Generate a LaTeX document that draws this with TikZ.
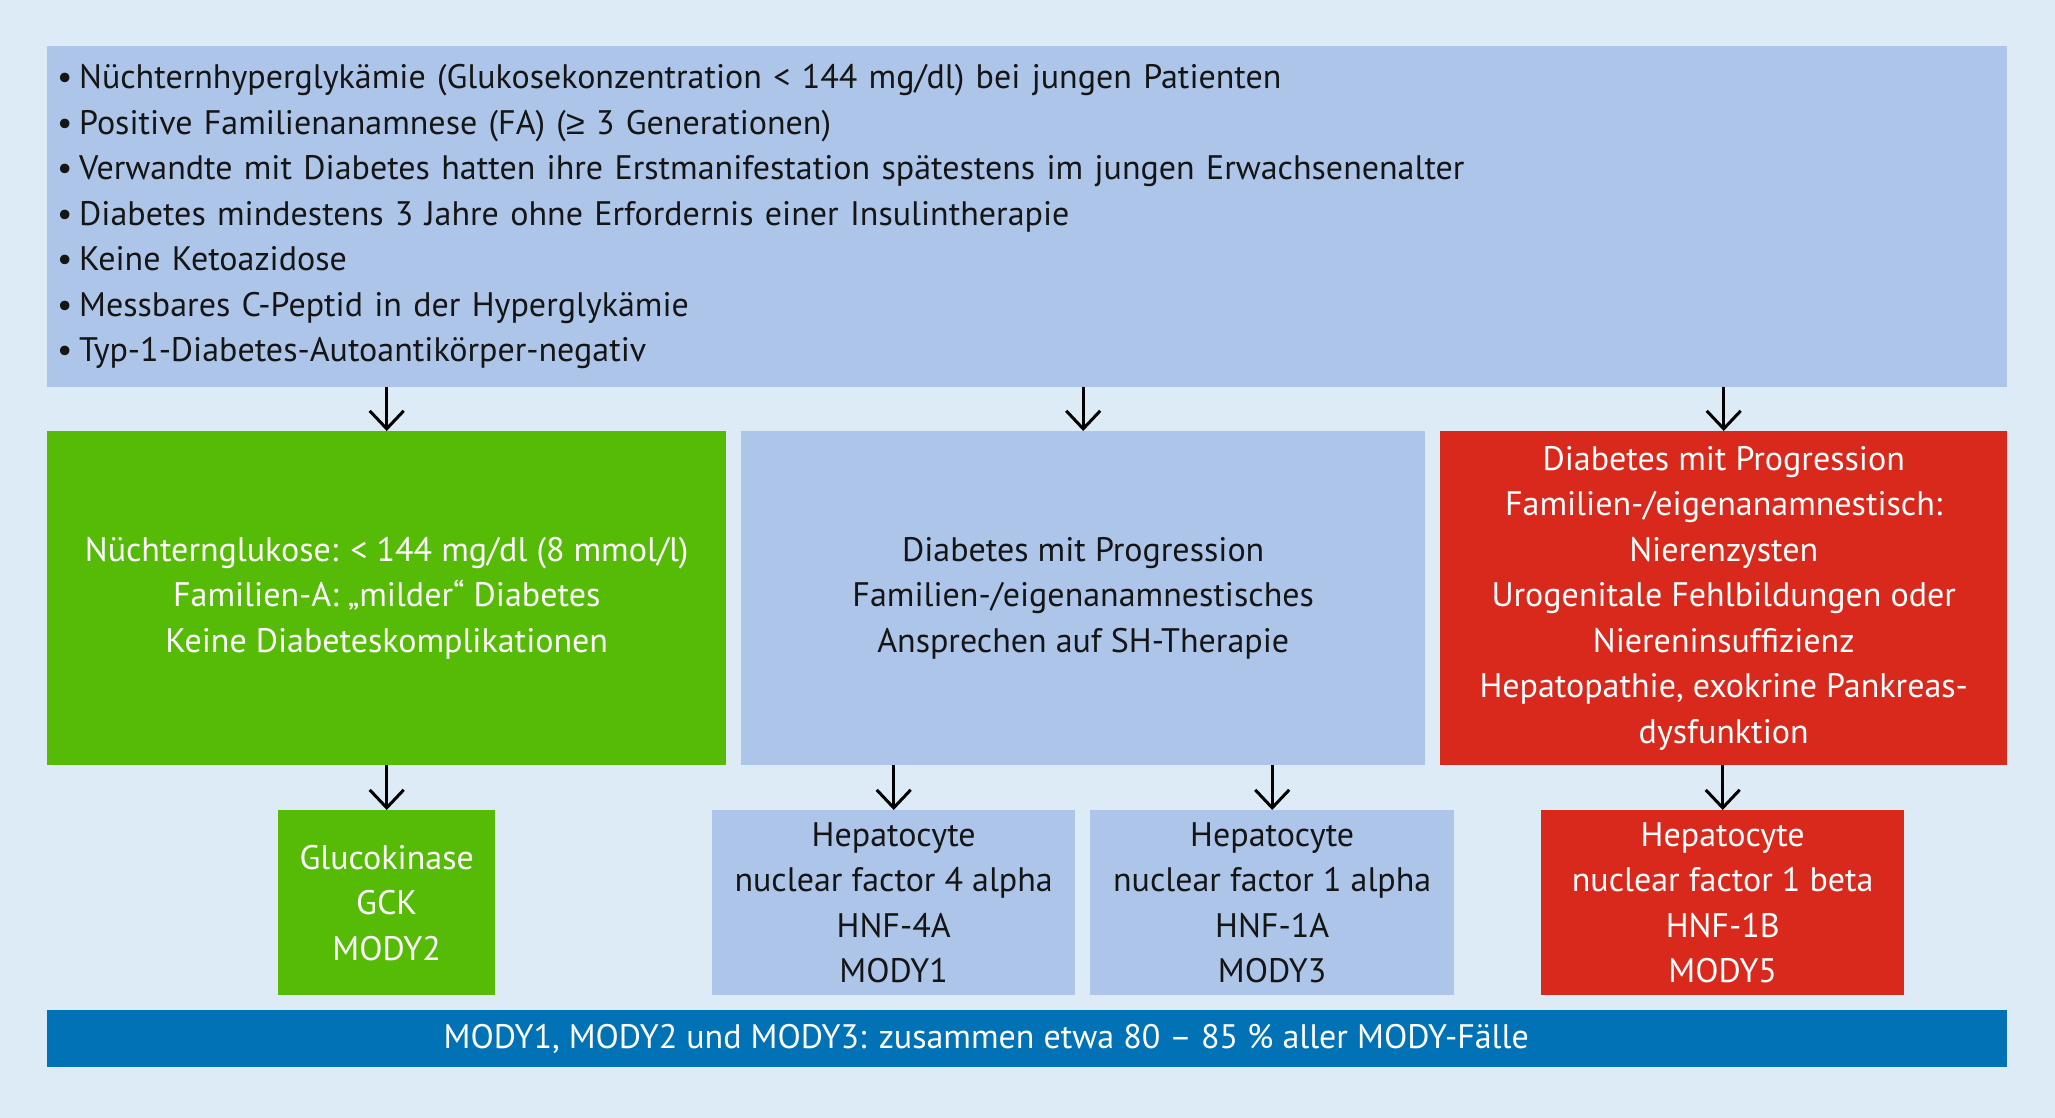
\documentclass[tikz,border=0pt]{standalone}
\usepackage{fontspec}
\setmainfont{PT Sans}
\newfontfamily\symf{Liberation Sans}
\usetikzlibrary{arrows.meta}
\definecolor{bg}{HTML}{DDEBF7}
\definecolor{lb}{HTML}{ADC5E8}
\definecolor{gr}{HTML}{55BB07}
\definecolor{rd}{HTML}{D9291C}
\definecolor{db}{HTML}{0072B5}
\definecolor{txt}{HTML}{151515}
\newcommand{\bul}{\makebox[22pt][l]{•}}
\begin{document}
\begin{tikzpicture}[x=1pt,y=-1pt,
  box/.style={rectangle, inner sep=0pt, anchor=north west, align=center,
    font=\fontsize{34}{45.5}\selectfont},
  light/.style={box, fill=lb, text=txt},
  green/.style={box, fill=gr, text=white},
  red/.style={box, fill=rd, text=white},
  arr/.style={-{Straight Barb[length=18pt,width=34pt]}, line width=3pt, black}]
\fill[bg] (0,0) rectangle (2055,1118);
\useasboundingbox (0,0) rectangle (2055,1118);
\node[light, minimum width=1960pt, minimum height=341pt, text width=1940pt, align=left] (top) at (47,46)
{\bul Nüchternhyperglykämie (Glukosekonzentration < 144 mg/dl) bei jungen Patienten\\
\bul Positive Familienanamnese (FA) ({\symf ≥} 3 Generationen)\\
\bul Verwandte mit Diabetes hatten ihre Erstmanifestation spätestens im jungen Erwachsenenalter\\
\bul Diabetes mindestens 3 Jahre ohne Erfordernis einer Insulintherapie\\
\bul Keine Ketoazidose\\
\bul Messbares C-Peptid in der Hyperglykämie\\
\bul Typ-1-Diabetes-Autoantikörper-negativ};
\node[green, minimum width=679pt, minimum height=334pt] (grn) at (47,431)
{Nüchternglukose: < 144 mg/dl (8 mmol/l)\\ Familien-A: „milder“ Diabetes\\ Keine Diabeteskomplikationen};
\node[light, minimum width=684pt, minimum height=334pt] (mid) at (741,431)
{Diabetes mit Progression\\ Familien-/eigenanamnestisches\\ Ansprechen auf SH-Therapie};
\node[red, minimum width=567pt, minimum height=334pt] (rdb) at (1440,431)
{Diabetes mit Progression\\ Familien-/eigenanamnestisch:\\ Nierenzysten\\ Urogenitale Fehlbildungen oder\\ Niereninsuffizienz\\ Hepatopathie, exokrine Pankreas-\\ dysfunktion};
\node[green, minimum width=217pt, minimum height=185pt] (gck) at (278,810)
{Glucokinase\\ GCK\\ MODY2};
\node[light, minimum width=363pt, minimum height=185pt] (hnf4) at (712,810)
{Hepatocyte\\ nuclear factor 4 alpha\\ HNF-4A\\ MODY1};
\node[light, minimum width=364pt, minimum height=185pt] (hnf1a) at (1090,810)
{Hepatocyte\\ nuclear factor 1 alpha\\ HNF-1A\\ MODY3};
\node[red, minimum width=363pt, minimum height=185pt] (hnf1b) at (1541,810)
{Hepatocyte\\ nuclear factor 1 beta\\ HNF-1B\\ MODY5};
\node[box, fill=db, text=white, minimum width=1960pt, minimum height=57pt] (bar) at (47,1010)
{\hspace*{-82pt}MODY1, MODY2 und MODY3: zusammen etwa 80 – 85 \% aller MODY-Fälle};
\draw[arr] (top.south -| grn.north) -- (grn.north);
\draw[arr] (top.south -| mid.north) -- (mid.north);
\draw[arr] (top.south -| rdb.north) -- (rdb.north);
\draw[arr] (grn.south -| gck.north) -- (gck.north);
\draw[arr] (mid.south -| hnf4.north) -- (hnf4.north);
\draw[arr] (mid.south -| hnf1a.north) -- (hnf1a.north);
\draw[arr] (rdb.south -| hnf1b.north) -- (hnf1b.north);
\end{tikzpicture}
\end{document}
